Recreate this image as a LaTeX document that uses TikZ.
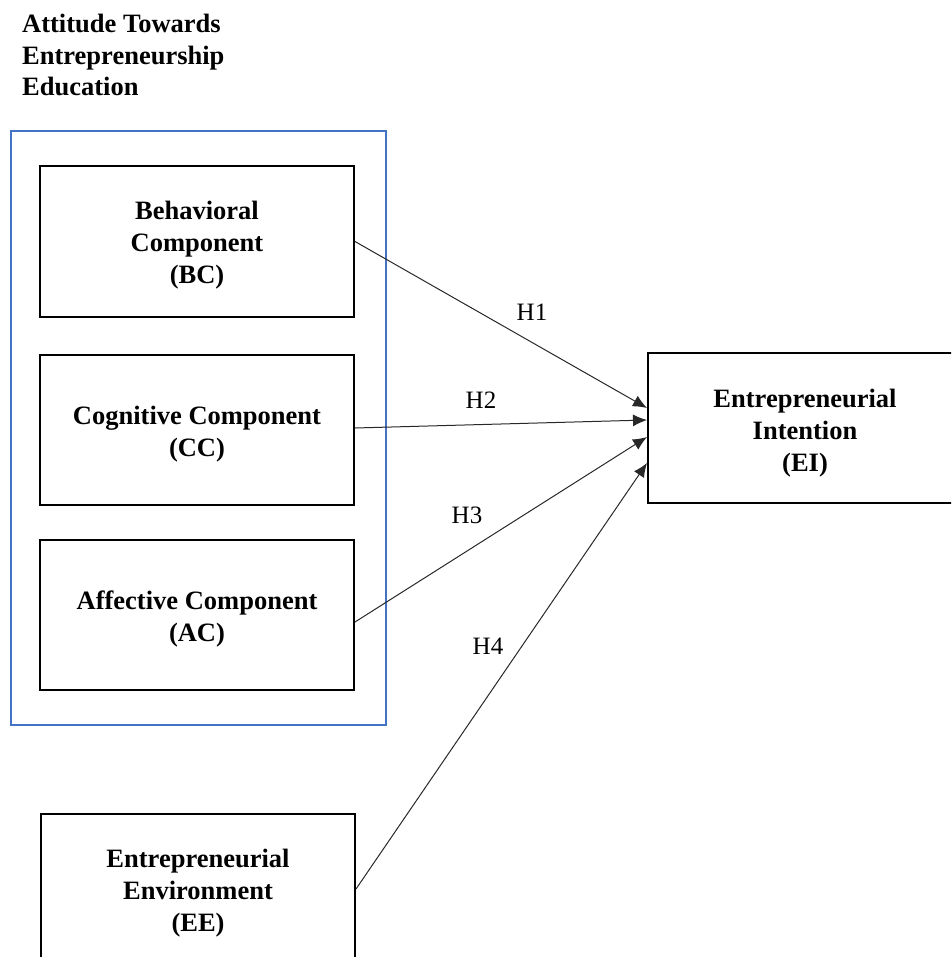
\documentclass[tikz,border=0pt]{standalone}
\usepackage{fontspec}
\setmainfont{Liberation Serif}
\usetikzlibrary{arrows.meta}
\definecolor{frameblue}{RGB}{68,114,196}
\definecolor{linegray}{RGB}{40,40,40}
\tikzset{
  boxnode/.style={draw=black, line width=2pt, minimum width=314pt, minimum height=150pt,
    inner sep=0pt},
  boxtext/.style={inner sep=0pt, align=center, font=\fontsize{26.5}{32}\selectfont\bfseries},
  link/.style={draw=linegray, line width=1pt, -{Latex[length=14pt,width=12pt]}},
  hlabel/.style={font=\fontsize{25}{30}\selectfont, inner sep=0pt}
}
\begin{document}
\begin{tikzpicture}[x=1pt,y=-1pt]
\useasboundingbox (0,0) rectangle (951,957);
\clip (0,0) rectangle (951,957);
\node[anchor=north west, inner sep=0pt, align=left, font=\fontsize{26.5}{31.5}\selectfont\bfseries] (title) at (22,14)
  {Attitude Towards\\Entrepreneurship\\Education};
\draw[frameblue, line width=1.6pt] (11,131) rectangle (386,725);
\node[boxnode] (BC) at (197,241.5) {};
\node[boxnode] (CC) at (197,430) {};
\node[boxnode] (AC) at (197,615) {};
\node[boxnode] (EE) at (198,889) {};
\node[boxnode] (EI) at (805,428) {};
\node[boxtext] (BCt) at ([yshift=-4pt]BC.center) {Behavioral\\Component\\(BC)};
\node[boxtext] (CCt) at ([yshift=-4pt]CC.center) {Cognitive Component\\(CC)};
\node[boxtext] (ACt) at ([yshift=-4pt]AC.center) {Affective Component\\(AC)};
\node[boxtext] (EEt) at ([yshift=-4pt]EE.center) {Entrepreneurial\\Environment\\(EE)};
\node[boxtext] (EIt) at ([yshift=-5pt]EI.center) {Entrepreneurial\\Intention\\(EI)};
\draw[link] (BC.east) -- ([yshift=20pt]EI.west);
\draw[link] ([yshift=2pt]CC.east) -- ([yshift=8pt]EI.west);
\draw[link] ([yshift=-7pt]AC.east) -- ([yshift=-9pt]EI.west);
\draw[link] (EE.east) -- ([yshift=-35pt]EI.west);
\node[hlabel] (h1) at (532,312) {H1};
\node[hlabel] (h2) at (481,400) {H2};
\node[hlabel] (h3) at (467,515) {H3};
\node[hlabel] (h4) at (488,646) {H4};
\end{tikzpicture}
\end{document}
